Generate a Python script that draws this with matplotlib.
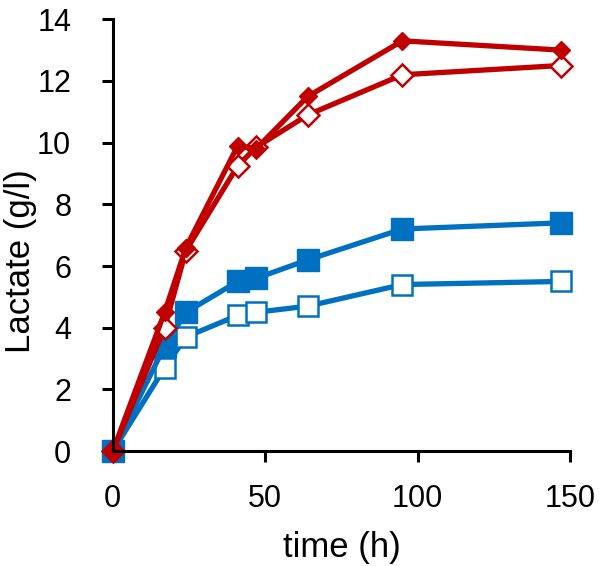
import matplotlib.pyplot as plt

plt.rcParams['font.family'] = ['Liberation Sans', 'DejaVu Sans']

# sampling times (h)
time_h = [0, 17, 24, 41, 47, 64, 95, 147]

# lactate (g/l) per series
red_filled = [0, 4.5, 6.6, 9.9, 9.8, 11.5, 13.3, 13.0]
red_open = [0, 4.0, 6.5, 9.25, 9.85, 10.9, 12.2, 12.5]
blue_filled = [0, 3.4, 4.5, 5.5, 5.6, 6.2, 7.2, 7.4]
blue_open = [0, 2.7, 3.7, 4.4, 4.5, 4.7, 5.4, 5.5]

red = '#C00000'
blue = '#0070C0'

fig = plt.figure(figsize=(6.0, 5.66), dpi=100)
ax = fig.add_axes([0.188, 0.203, 0.762, 0.763])

ax.plot(time_h, blue_open, color=blue, lw=3.8, marker='s', ms=14,
        mfc='white', mec=blue, mew=1.8, clip_on=False)
ax.plot(time_h, blue_filled, color=blue, lw=3.8, marker='s', ms=16.5,
        mfc=blue, mec=blue, clip_on=False)
ax.plot(time_h, red_open, color=red, lw=3.8, marker='D', ms=11,
        mfc='white', mec=red, mew=1.8, clip_on=False)
ax.plot(time_h, red_filled, color=red, lw=3.8, marker='D', ms=9,
        mfc=red, mec=red, clip_on=False)

ax.set_xlim(0, 150)
ax.set_ylim(0, 14)
ax.set_xticks([0, 50, 100, 150])
ax.set_yticks(range(0, 15, 2))

for side in ['top', 'right']:
    ax.spines[side].set_visible(False)
for side in ['left', 'bottom']:
    ax.spines[side].set_linewidth(2.2)

ax.tick_params(direction='out', length=8, width=2.2, labelsize=22)
ax.tick_params(axis='y', pad=22)
ax.tick_params(axis='x', pad=16)
ax.set_xlabel('time (h)', fontsize=25, labelpad=12)
ax.set_ylabel('Lactate (g/l)', fontsize=25)
ax.yaxis.set_label_coords(-0.165, 0.44)

fig.savefig('out.png', dpi=100)
